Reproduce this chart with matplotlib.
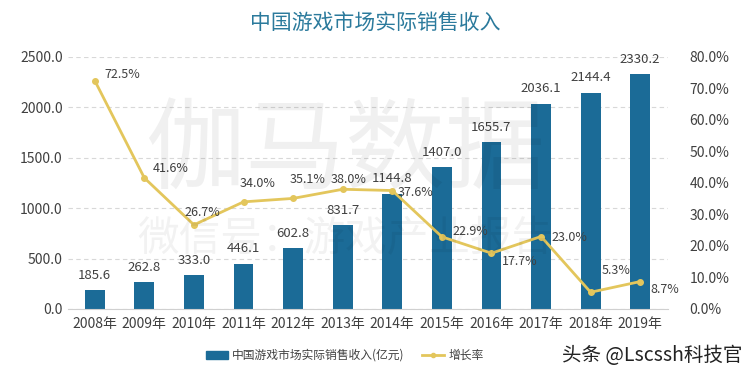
import matplotlib
matplotlib.use("Agg")
import matplotlib.pyplot as plt
from matplotlib.patches import Patch
from matplotlib.lines import Line2D
import numpy as np

plt.rcParams['font.family'] = ['Noto Sans CJK SC', 'DejaVu Sans']

years = ["2008年", "2009年", "2010年", "2011年", "2012年", "2013年",
         "2014年", "2015年", "2016年", "2017年", "2018年", "2019年"]
revenue = [185.6, 262.8, 333.0, 446.1, 602.8, 831.7,
           1144.8, 1407.0, 1655.7, 2036.1, 2144.4, 2330.2]
growth = [72.5, 41.6, 26.7, 34.0, 35.1, 38.0,
          37.6, 22.9, 17.7, 23.0, 5.3, 8.7]

# where each growth label's centre sits relative to its point (pixels, up = +)
growth_offsets = [(28, 6), (26, 9), (8, 12), (14, 18), (14, 19), (6, 10),
                  (23, -2), (28, 5), (28, -8), (28, -1), (25, 22), (25, -8)]

bar_color = "#1b6b97"
line_color = "#e3c65c"
text_color = "#404040"
PX = 0.72  # points per pixel at dpi 100

fig = plt.figure(figsize=(7.5, 3.8), dpi=100)
ax = fig.add_axes([0.09, 0.187, 0.80, 0.663])
ax2 = ax.twinx()

x = np.arange(len(years))
ax.bar(x, revenue, width=0.4, color=bar_color, zorder=2)
for xi, v in zip(x, revenue):
    ax.annotate(f"{v:.1f}", (xi, v), xytext=(0, 15 * PX), textcoords="offset points",
                ha="center", va="center", fontsize=9.5, color=text_color)

ax2.plot(x, growth, color=line_color, lw=2, marker="o", ms=4, zorder=3)
for xi, g, (dx, dy) in zip(x, growth, growth_offsets):
    ax2.annotate(f"{g:.1f}%", (xi, g), xytext=(dx * PX, dy * PX), textcoords="offset points",
                 ha="center", va="center", fontsize=9, color=text_color)

ax.set_ylim(0, 2500)
ax.set_yticks(np.arange(0, 2501, 500))
ax.set_yticklabels([f"{v:.1f}" for v in np.arange(0, 2501, 500)])
ax2.set_ylim(0, 80)
ax2.set_yticks(np.arange(0, 81, 10))
ax2.set_yticklabels([f"{v:.1f}%" for v in np.arange(0, 81, 10)])
ax.set_xlim(-0.55, len(years) - 0.45)
ax.set_xticks(x)
ax.set_xticklabels(years)

for a in (ax, ax2):
    for s in a.spines.values():
        s.set_visible(False)
    a.tick_params(length=0, labelsize=10, colors=text_color)
ax.tick_params(axis="x", pad=6)
ax2.tick_params(axis="y", pad=16)
ax.spines["bottom"].set_visible(True)
ax.spines["bottom"].set_color("#d0d0d0")
ax.yaxis.grid(True, color="#d8d8d8", ls=(0, (4, 3)), lw=0.8, zorder=0)
ax.set_axisbelow(True)

# watermark
fig.text(0.46, 0.6, "伽马数据", fontsize=72, color="#000000", alpha=0.06,
         ha="center", va="center")
fig.text(0.46, 0.37, "微信号：游戏产业报告", fontsize=30, color="#000000", alpha=0.05,
         ha="center", va="center")

fig.text(0.5, 0.94, "中国游戏市场实际销售收入", fontsize=15, color="#2b7a9c",
         ha="center", va="center")

# legend
handles = [Patch(color=bar_color), Line2D([], [], color=line_color, lw=2, marker="o", ms=3)]
fig.legend(handles, ["中国游戏市场实际销售收入(亿元)", "增长率"], loc="center",
           bbox_to_anchor=(0.46, 0.065), ncol=2, frameon=False, fontsize=8.5,
           handlelength=1.8, handletextpad=0.4, columnspacing=1.5, labelcolor=text_color)
fig.text(0.99, 0.065, "头条 @Lscssh科技官", fontsize=14, color="#222222",
         ha="right", va="center")

fig.savefig("out.png", dpi=100)
